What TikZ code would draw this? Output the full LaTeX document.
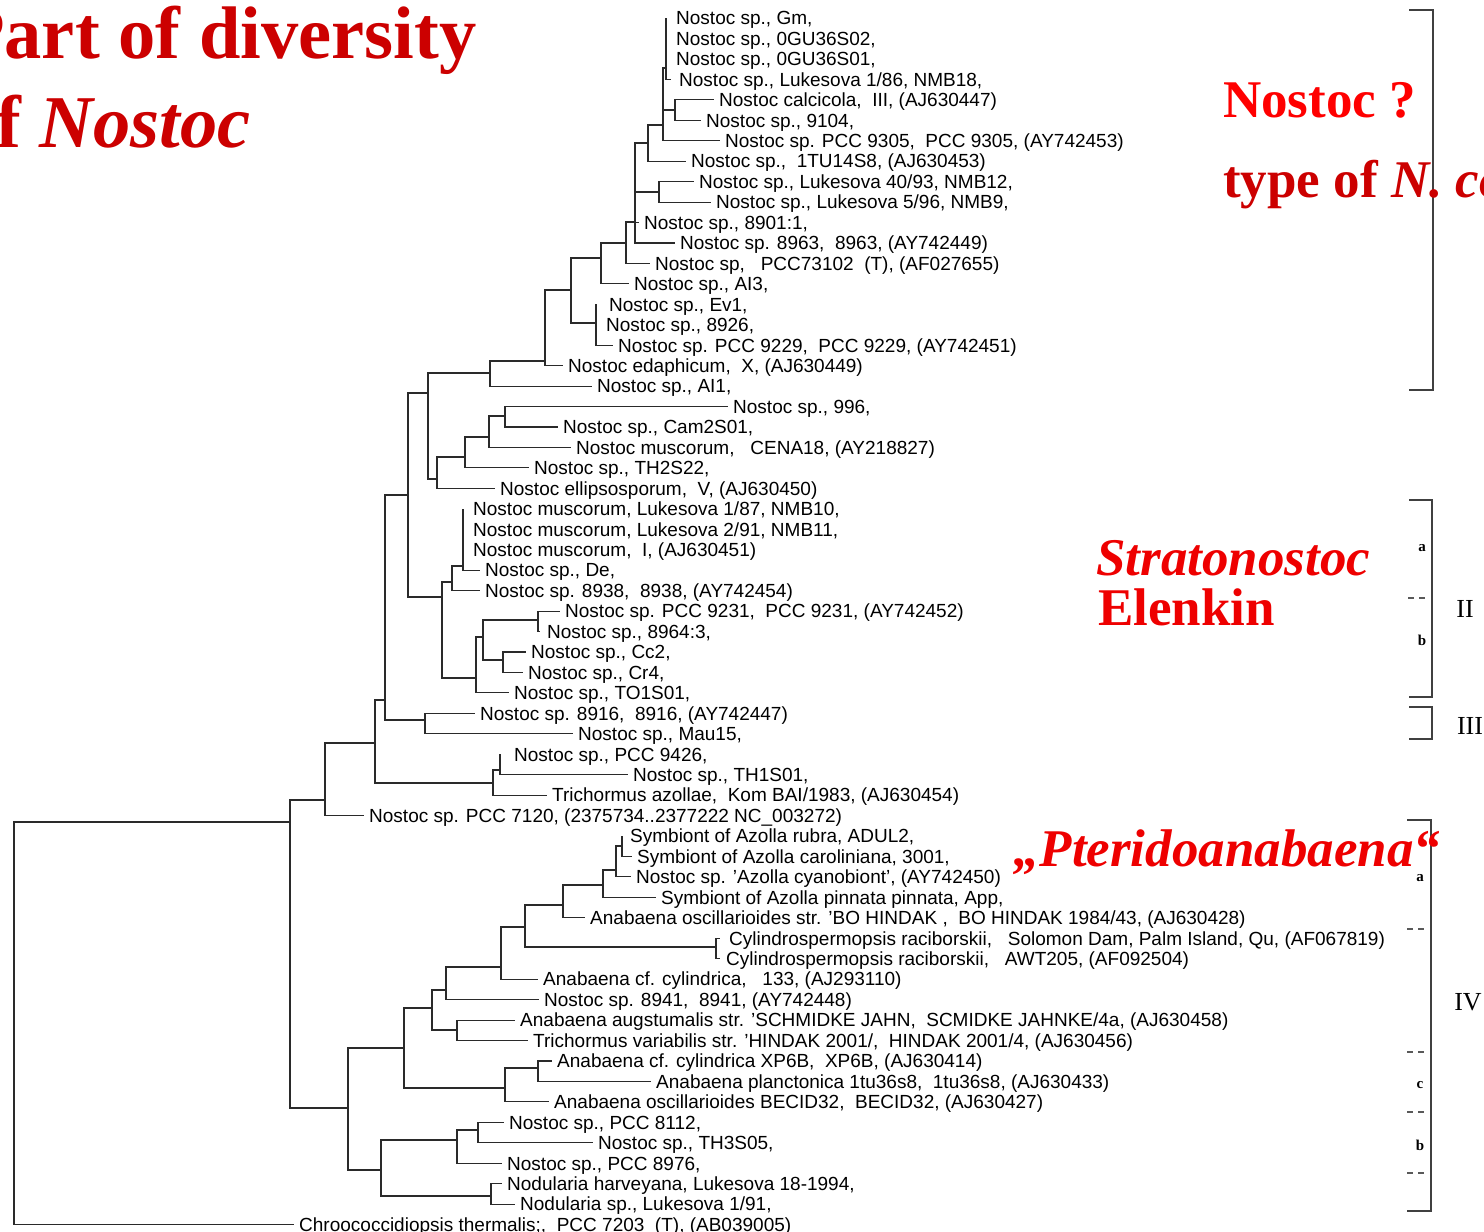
\documentclass[tikz,border=0pt]{standalone}
\usepackage{fontspec}
\setmainfont{Liberation Sans}
\newfontfamily\serifbody{Liberation Serif}
\definecolor{titlered}{HTML}{CC0000}
\definecolor{cladered}{HTML}{EE0000}
\definecolor{branchgray}{HTML}{2A2A2A}

% \taxonleaf{row}{tip x}{text x}{label}: tip of a terminal branch and its label
\newcommand\taxonleaf[4]{%
  \coordinate (l#1) at (#2, {18+(#1-1)*20.45});
  \node[taxon] (t#1) at (#3, {18+(#1-1)*20.45+6.8}) {#4};}

\begin{document}
\begin{tikzpicture}[x=1pt,y=-1pt,
  branch/.style={line width=1.1pt, draw=branchgray},
  taxon/.style={anchor=base west, inner sep=0pt, font=\fontsize{19}{19}\selectfont},
  bracketline/.style={line width=1.2pt, draw=black!75},
  groupdash/.style={line width=1.1pt, draw=black!65, dash pattern=on 6pt off 5pt},
  subgroup/.style={inner sep=0pt, font=\serifbody\bfseries\fontsize{15}{15}\selectfont},
  groupname/.style={inner sep=0pt, font=\serifbody\fontsize{26}{26}\selectfont},
  redbig/.style={anchor=base west, inner sep=0pt, font=\serifbody\bfseries\fontsize{53}{53}\selectfont},
  titletext/.style={anchor=base west, inner sep=0pt, text=titlered, font=\serifbody\bfseries\fontsize{74.5}{74.5}\selectfont}]
\useasboundingbox (0,0) rectangle (1484,1232);
\clip (0,0) rectangle (1484,1232);

% ---------- terminal taxa ----------
\taxonleaf{1}{666}{676}{Nostoc sp., Gm,}
\taxonleaf{2}{666}{676}{Nostoc sp., 0GU36S02,}
\taxonleaf{3}{666}{676}{Nostoc sp., 0GU36S01,}
\taxonleaf{4}{671}{679}{Nostoc sp., Lukesova 1/86, NMB18,}
\taxonleaf{5}{714}{719}{Nostoc calcicola,\ \ III, (AJ630447)}
\taxonleaf{6}{701}{706}{Nostoc sp., 9104,}
\taxonleaf{7}{720}{725}{Nostoc sp. PCC 9305,\ \ PCC 9305, (AY742453)}
\taxonleaf{8}{686}{691}{Nostoc sp.,\ \ 1TU14S8, (AJ630453)}
\taxonleaf{9}{694}{699}{Nostoc sp., Lukesova 40/93, NMB12,}
\taxonleaf{10}{711}{716}{Nostoc sp., Lukesova 5/96, NMB9,}
\taxonleaf{11}{639}{644}{Nostoc sp., 8901:1,}
\taxonleaf{12}{675}{680}{Nostoc sp. 8963,\ \ 8963, (AY742449)}
\taxonleaf{13}{650}{655}{Nostoc sp,\ \ \ PCC73102\ \ (T), (AF027655)}
\taxonleaf{14}{629}{634}{Nostoc sp., AI3,}
\taxonleaf{15}{596}{609}{Nostoc sp., Ev1,}
\taxonleaf{16}{596}{606}{Nostoc sp., 8926,}
\taxonleaf{17}{613}{618}{Nostoc sp. PCC 9229,\ \ PCC 9229, (AY742451)}
\taxonleaf{18}{563}{568}{Nostoc edaphicum,\ \ X, (AJ630449)}
\taxonleaf{19}{592}{597}{Nostoc sp., AI1,}
\taxonleaf{20}{728}{733}{Nostoc sp., 996,}
\taxonleaf{21}{558}{563}{Nostoc sp., Cam2S01,}
\taxonleaf{22}{571}{576}{Nostoc muscorum,\ \ \ CENA18, (AY218827)}
\taxonleaf{23}{529}{534}{Nostoc sp., TH2S22,}
\taxonleaf{24}{495}{500}{Nostoc ellipsosporum,\ \ V, (AJ630450)}
\taxonleaf{25}{463}{473}{Nostoc muscorum, Lukesova 1/87, NMB10,}
\taxonleaf{26}{463}{473}{Nostoc muscorum, Lukesova 2/91, NMB11,}
\taxonleaf{27}{463}{473}{Nostoc muscorum,\ \ I, (AJ630451)}
\taxonleaf{28}{480}{485}{Nostoc sp., De,}
\taxonleaf{29}{480}{485}{Nostoc sp. 8938,\ \ 8938, (AY742454)}
\taxonleaf{30}{560}{565}{Nostoc sp. PCC 9231,\ \ PCC 9231, (AY742452)}
\taxonleaf{31}{540}{547}{Nostoc sp., 8964:3,}
\taxonleaf{32}{526}{531}{Nostoc sp., Cc2,}
\taxonleaf{33}{523}{528}{Nostoc sp., Cr4,}
\taxonleaf{34}{509}{514}{Nostoc sp., TO1S01,}
\taxonleaf{35}{475}{480}{Nostoc sp. 8916,\ \ 8916, (AY742447)}
\taxonleaf{36}{573}{578}{Nostoc sp., Mau15,}
\taxonleaf{37}{500}{514}{Nostoc sp., PCC 9426,}
\taxonleaf{38}{628}{633}{Nostoc sp., TH1S01,}
\taxonleaf{39}{547}{552}{Trichormus azollae,\ \ Kom BAI/1983, (AJ630454)}
\taxonleaf{40}{364}{369}{Nostoc sp. PCC 7120, (2375734..2377222 NC\_003272)}
\taxonleaf{41}{622}{630}{Symbiont of Azolla rubra, ADUL2,}
\taxonleaf{42}{632}{637}{Symbiont of Azolla caroliniana, 3001,}
\taxonleaf{43}{631}{636}{Nostoc sp. 'Azolla cyanobiont', (AY742450)}
\taxonleaf{44}{656}{661}{Symbiont of Azolla pinnata pinnata, App,}
\taxonleaf{45}{585}{590}{Anabaena oscillarioides str. 'BO HINDAK ,\ \ BO HINDAK 1984/43, (AJ630428)}
\taxonleaf{46}{720}{729}{Cylindrospermopsis raciborskii,\ \ \ Solomon Dam, Palm Island, Qu, (AF067819)}
\taxonleaf{47}{720}{726}{Cylindrospermopsis raciborskii,\ \ \ AWT205, (AF092504)}
\taxonleaf{48}{538}{543}{Anabaena cf. cylindrica,\ \ \ 133, (AJ293110)}
\taxonleaf{49}{539}{544}{Nostoc sp. 8941,\ \ 8941, (AY742448)}
\taxonleaf{50}{515}{520}{Anabaena augstumalis str. 'SCHMIDKE JAHN,\ \ SCMIDKE JAHNKE/4a, (AJ630458)}
\taxonleaf{51}{528}{533}{Trichormus variabilis str. 'HINDAK 2001/,\ \ HINDAK 2001/4, (AJ630456)}
\taxonleaf{52}{552}{557}{Anabaena cf. cylindrica XP6B,\ \ XP6B, (AJ630414)}
\taxonleaf{53}{651}{656}{Anabaena planctonica 1tu36s8,\ \ 1tu36s8, (AJ630433)}
\taxonleaf{54}{549}{554}{Anabaena oscillarioides BECID32,\ \ BECID32, (AJ630427)}
\taxonleaf{55}{504}{509}{Nostoc sp., PCC 8112,}
\taxonleaf{56}{593}{598}{Nostoc sp., TH3S05,}
\taxonleaf{57}{502}{507}{Nostoc sp., PCC 8976,}
\taxonleaf{58}{502}{507}{Nodularia harveyana, Lukesova 18-1994,}
\taxonleaf{59}{515}{520}{Nodularia sp., Lukesova 1/91,}
\taxonleaf{60}{294}{299}{Chroococcidiopsis thermalis;,\ \ PCC 7203\ \ (T), (AB039005)}

% ---------- internal nodes (x = depth, y = attachment of the stem) ----------
\coordinate (nA)   at (666,68);
\coordinate (nA5)  at (675,110);
\coordinate (nB)   at (663,125);
\coordinate (nC)   at (648,143);
\coordinate (nDD)  at (659,192);
\coordinate (nD)   at (635,222);
\coordinate (nE)   at (626,243);
\coordinate (nF)   at (601,258);
\coordinate (nG)   at (596,323);
\coordinate (nH)   at (571,290);
\coordinate (nHp)  at (545,361);
\coordinate (nI)   at (490,373);
\coordinate (nL3)  at (505,416);
\coordinate (nL2)  at (489,437);
\coordinate (nL1)  at (465,457);
\coordinate (nL)   at (437,479);
\coordinate (nK)   at (428,393);
\coordinate (nN)   at (463,566);
\coordinate (nO)   at (452,582);
\coordinate (nT2)  at (538,620);
\coordinate (nT3)  at (503,660);
\coordinate (nT1)  at (483,637);
\coordinate (nT)   at (476,678);
\coordinate (nM)   at (442,597);
\coordinate (nKp)  at (408,495);
\coordinate (nS)   at (425,720);
\coordinate (nD1)  at (385,700);
\coordinate (nQ1)  at (500,770);
\coordinate (nQ)   at (493,783);
\coordinate (nC1)  at (375,743);
\coordinate (nB1)  at (325,800);
\coordinate (nA1)  at (290,822);
\coordinate (nR)   at (14,1000);
\coordinate (nU8)  at (622,846);
\coordinate (nU7)  at (616,870);
\coordinate (nU6)  at (603,885);
\coordinate (nU5)  at (563,905);
\coordinate (nCY)  at (716,947);
\coordinate (nU4)  at (525,927);
\coordinate (nU3)  at (501,967);
\coordinate (nU1)  at (446,990);
\coordinate (nU2)  at (457,1030);
\coordinate (nU)   at (432,1008);
\coordinate (nV1)  at (538,1068);
\coordinate (nV)   at (505,1088);
\coordinate (nPup) at (404,1048);
\coordinate (nW1)  at (478,1130);
\coordinate (nW)   at (457,1140);
\coordinate (nNOD) at (491,1196);
\coordinate (nPlow) at (381,1170);
\coordinate (nP)   at (348,1108);

% ---------- branches: parent |- child ----------
\foreach \p/\c in {
  nR/nA1, nR/l60,
  nA1/nB1, nA1/nP,
  nB1/nC1, nB1/l40,
  nC1/nD1, nC1/nQ,
  nQ/nQ1, nQ/l39, nQ1/l37, nQ1/l38,
  nD1/nKp, nD1/nS, nS/l35, nS/l36,
  nKp/nK, nKp/nM,
  nK/nI, nK/nL,
  nI/nHp, nI/l19,
  nHp/nH, nHp/l18,
  nH/nF, nH/nG,
  nG/l15, nG/l16, nG/l17,
  nF/nE, nF/l14,
  nE/nD, nE/l13,
  nD/nC, nD/nDD, nD/l11, nD/l12,
  nDD/l9, nDD/l10,
  nC/nB, nC/l8,
  nB/nA, nB/nA5, nB/l7,
  nA/l1, nA/l2, nA/l3, nA/l4,
  nA5/l5, nA5/l6,
  nL/nL1, nL/l24, nL1/nL2, nL1/l23, nL2/nL3, nL2/l22, nL3/l20, nL3/l21,
  nM/nO, nM/nT,
  nO/nN, nO/l29, nN/l25, nN/l26, nN/l27, nN/l28,
  nT/nT1, nT/l34, nT1/nT2, nT1/nT3,
  nT2/l30, nT2/l31, nT3/l32, nT3/l33,
  nP/nPup, nP/nPlow,
  nPup/nU, nPup/nV,
  nU/nU1, nU/nU2, nU2/l50, nU2/l51,
  nU1/nU3, nU1/l49,
  nU3/nU4, nU3/l48,
  nU4/nU5, nU4/nCY, nCY/l46, nCY/l47,
  nU5/nU6, nU5/l45,
  nU6/nU7, nU6/l44,
  nU7/nU8, nU7/l43, nU8/l41, nU8/l42,
  nV/nV1, nV/l54, nV1/l52, nV1/l53,
  nPlow/nW, nPlow/nNOD,
  nW/nW1, nW/l57, nW1/l55, nW1/l56,
  nNOD/l58, nNOD/l59}
  \draw[branch] (\p) |- (\c);

% ---------- group brackets ----------
\coordinate (b1t) at (1409,10);   \coordinate (b1b) at (1409,390);
\draw[bracketline] (b1t) -- (1433,10) -- (1433,390) -- (b1b);

\coordinate (b2t) at (1409,500);  \coordinate (b2b) at (1409,697);
\draw[bracketline] (b2t) -- (1432,500) -- (1432,697) -- (b2b);
\draw[groupdash] (1408,598) -- (1429,598);
\node[subgroup] (IIa) at (1422,548) {a};
\node[subgroup] (IIb) at (1422,640) {b};
\node[groupname] (gII) at (1465,609) {II};

\coordinate (b3t) at (1409,707);  \coordinate (b3b) at (1409,739);
\draw[bracketline] (b3t) -- (1432,707) -- (1432,739) -- (b3b);
\node[groupname] (gIII) at (1470,726) {III};

\coordinate (b4t) at (1407,820);  \coordinate (b4b) at (1407,1211);
\draw[bracketline] (b4t) -- (1431,820) -- (1431,1211) -- (b4b);
\foreach \yy in {929,1052,1112,1173}
  \draw[groupdash] (1407,\yy) -- (1428,\yy);
\node[subgroup] (IVa) at (1420,878) {a};
\node[subgroup] (IVc) at (1420,1085) {c};
\node[subgroup] (IVb) at (1420,1145) {b};
\node[groupname] (gIV) at (1468,1002) {IV};

% ---------- red annotations ----------
\node[titletext] (title1) at (-41,58) {Part of diversity};
\node[titletext] (title2) at (-41,147) {of \textit{Nostoc}};

\node[redbig, text=red] (qnostoc) at (1223,117) {Nostoc ?};
\node[redbig, text=titlered] (typeof) at (1223,197) {type of \textit{N. commune}};
\node[redbig, text=cladered] (strato) at (1096,575) {\textit{Stratonostoc}};
\node[redbig, text=cladered] (elenkin) at (1098,625) {Elenkin};
\node[redbig, text=cladered] (pterido) at (1013,866) {\textit{„Pteridoanabaena“}};
\end{tikzpicture}
\end{document}
